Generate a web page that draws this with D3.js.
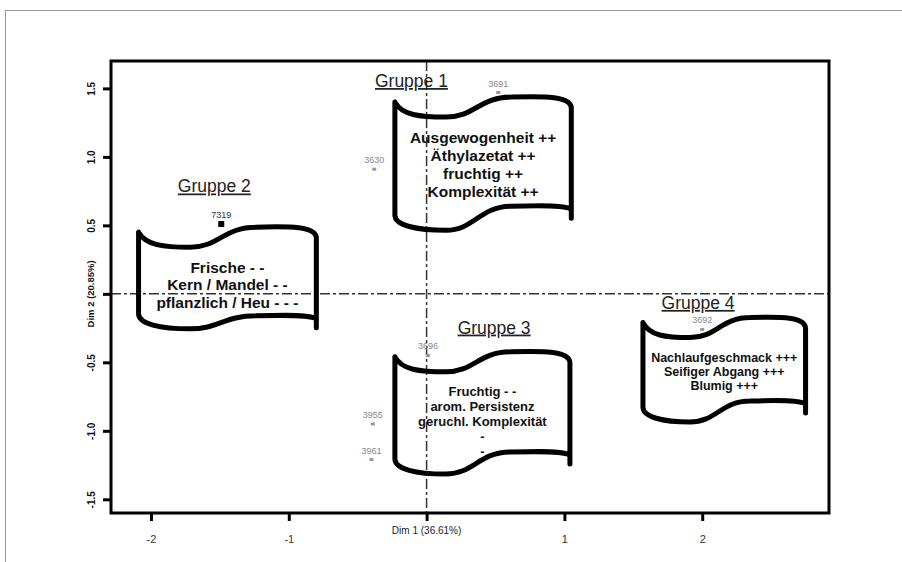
<!DOCTYPE html>
<html>
<head>
<meta charset="utf-8">
<script src="https://cdn.jsdelivr.net/npm/d3@7"></script>
<style>
  body { margin: 0; background: #fff; }
  text { font-family: "Liberation Sans", Arial, sans-serif; }
</style>
</head>
<body>
<div id="chart"></div>
<script>
// samples (dim 1 / dim 2 scores)
const pointIds  = ["3691", "3630", "7319", "3696", "3955", "3961", "3692"];
const pointDim1 = [0.52, -0.38, -1.49, 0.01, -0.39, -0.40, 2.00];
const pointDim2 = [1.47, 0.91, 0.51, -0.45, -0.95, -1.21, -0.26];

// group banners: extent in dim units, title position and text lines
const groupNames  = ["Gruppe 1", "Gruppe 2", "Gruppe 3", "Gruppe 4"];
const groupTitleX = [-0.11, -1.54, 0.49, 1.97];
const groupTitleY = [1.51, 0.74, -0.29, -0.11];
const bannerX0    = [-0.23, -2.09, -0.23, 1.57];
const bannerX1    = [1.05, -0.80, 1.04, 2.75];
const bannerTop   = [1.40, 0.45, -0.46, -0.21];
const bannerBot   = [0.53, -0.19, -1.25, -0.87];
const bannerLines = [
  ["Ausgewogenheit ++", "Äthylazetat ++", "fruchtig ++", "Komplexität ++"],
  ["Frische - -", "Kern / Mandel - -", "pflanzlich / Heu - - -"],
  ["Fruchtig - -", "arom. Persistenz", "geruchl. Komplexität", "-", "-"],
  ["Nachlaufgeschmack +++", "Seifiger Abgang +++", "Blumig +++"]
];
const bannerFont = [15.5, 15.5, 13, 12.5];
const bannerStep = [18, 17.5, 15, 14];
const bannerRise = [15, 4, 13, 12];   // how far the bottom edge climbs on the right, px

const xTicks = [-2, -1, 0, 1, 2];
const yTicks = [-1.5, -1, -0.5, 0, 0.5, 1, 1.5];
const xTitle = "Dim 1 (36.61%)";
const yTitle = "Dim 2 (20.85%)";

const width = 902, height = 562;
const plotL = 111, plotR = 829, plotT = 61, plotB = 513;

let svg = d3.select("#chart").append("svg")
    .attr("width", width)
    .attr("height", height);

// thin outer frame
svg.append("rect")
    .attr("x", 5.5).attr("y", 10.5)
    .attr("width", 1000).attr("height", 1000)
    .style("fill", "none")
    .style("stroke", "#999")
    .style("stroke-width", 1);

let x = d3.scaleLinear().domain([-2.29, 2.92]).range([plotL, plotR]);
let y = d3.scaleLinear().domain([-1.60, 1.70]).range([plotB, plotT]);

// reference lines through origin
svg.append("line")
    .attr("x1", plotL).attr("x2", plotR)
    .attr("y1", y(0)).attr("y2", y(0))
    .style("stroke", "#333").style("stroke-width", 1.5)
    .style("stroke-dasharray", "10,3,3,3");
svg.append("line")
    .attr("x1", x(0)).attr("x2", x(0))
    .attr("y1", plotT).attr("y2", plotB)
    .style("stroke", "#333").style("stroke-width", 1.5)
    .style("stroke-dasharray", "10,3,3,3");

// axes
let xAxis = svg.append("g")
    .attr("transform", "translate(0," + plotB + ")")
    .call(d3.axisBottom(x).tickValues(xTicks).tickSize(8).tickPadding(14)
      .tickFormat(d => d === 0 ? "" : String(d)));
let yAxis = svg.append("g")
    .attr("transform", "translate(" + plotL + ",0)")
    .call(d3.axisLeft(y).tickValues(yTicks).tickSize(8).tickPadding(4)
      .tickFormat(d => d === 0 ? "" : d3.format(".1f")(d).replace("−", "-")));

[xAxis, yAxis].forEach(a => {
  a.select(".domain").remove();
  a.selectAll(".tick line").style("stroke", "#000").style("stroke-width", 3);
});
xAxis.selectAll(".tick text")
    .style("font-size", "11px").style("fill", "#333");
yAxis.selectAll(".tick text")
    .attr("transform", "rotate(-90)")
    .attr("x", 0).attr("y", -20)
    .attr("dy", "0.35em")
    .style("text-anchor", "middle")
    .style("font-size", "10px").style("font-weight", "bold").style("fill", "#111");

// plot box
svg.append("rect")
    .attr("x", plotL).attr("y", plotT)
    .attr("width", plotR - plotL).attr("height", plotB - plotT)
    .style("fill", "none").style("stroke", "#000").style("stroke-width", 3);

svg.append("text")
    .attr("x", x(0)).attr("y", plotB + 21)
    .style("text-anchor", "middle").style("font-size", "10px").style("fill", "#222")
    .text(xTitle);
svg.append("text")
    .attr("transform", "translate(91," + y(0) + ") rotate(-90)")
    .attr("dy", "0.35em")
    .style("text-anchor", "middle").style("font-size", "9.5px")
    .style("font-weight", "bold").style("fill", "#111")
    .text(yTitle);

// banner path from its extent
function bannerPath(i) {
  let x0 = x(bannerX0[i]), x1 = x(bannerX1[i]);
  let yT = y(bannerTop[i]), yB = y(bannerBot[i]);
  let W = x1 - x0, r = bannerRise[i];
  let p = d3.path();
  // top edge
  p.moveTo(x0, yT);
  p.bezierCurveTo(x0 + 0.04 * W, yT + 13, x0 + 0.14 * W, yT + 15, x0 + 0.29 * W, yT + 15);
  p.bezierCurveTo(x0 + 0.45 * W, yT + 15, x0 + 0.48 * W, yT - 5, x0 + 0.66 * W, yT - 5);
  p.bezierCurveTo(x0 + 0.85 * W, yT - 6, x1, yT - 6, x1, yT + 6);
  // right edge with short tail
  p.lineTo(x1, yB - r + 12);
  // left edge
  p.moveTo(x0, yT);
  p.lineTo(x0, yB - 6);
  // bottom edge
  p.bezierCurveTo(x0, yB + 4, x0 + 0.12 * W, yB + 9, x0 + 0.29 * W, yB + 9);
  p.bezierCurveTo(x0 + 0.45 * W, yB + 9, x0 + 0.48 * W, yB - r, x0 + 0.66 * W, yB - r);
  p.bezierCurveTo(x0 + 0.85 * W, yB - r - 1, x1 - 6, yB - r - 1, x1, yB - r + 3);
  return p.toString();
}

let groups = d3.range(groupNames.length);

svg.append("g").selectAll("path")
    .data(groups)
    .enter().append("path")
    .attr("d", d => bannerPath(d))
    .style("fill", "none")
    .style("stroke", "#000")
    .style("stroke-width", 5)
    .style("stroke-linecap", "round")
    .style("stroke-linejoin", "round");

// banner text
groups.forEach(i => {
  let cx = (x(bannerX0[i]) + x(bannerX1[i])) / 2;
  let yT = y(bannerTop[i]);
  svg.append("g").selectAll("text")
    .data(bannerLines[i])
    .enter().append("text")
    .attr("x", cx)
    .attr("y", (d, j) => yT + 35 + j * bannerStep[i])
    .attr("dy", "0.35em")
    .style("text-anchor", "middle")
    .style("font-size", bannerFont[i] + "px")
    .style("font-weight", "bold")
    .style("fill", "#111")
    .text(d => d);
});

// group titles
svg.append("g").selectAll("text")
    .data(groups)
    .enter().append("text")
    .attr("x", d => x(groupTitleX[d]))
    .attr("y", d => y(groupTitleY[d]))
    .style("text-anchor", "middle")
    .style("font-size", "17.5px")
    .style("text-decoration", "underline")
    .style("fill", "#222")
    .text(d => groupNames[d]);

// sample points
let pts = d3.range(pointIds.length);
svg.append("g").selectAll("rect")
    .data(pts)
    .enter().append("rect")
    .attr("x", d => x(pointDim1[d]) - (pointIds[d] === "7319" ? 3 : 2))
    .attr("y", d => y(pointDim2[d]) - (pointIds[d] === "7319" ? 3 : 1.5))
    .attr("width", d => pointIds[d] === "7319" ? 6 : 4)
    .attr("height", d => pointIds[d] === "7319" ? 6 : 3)
    .style("fill", d => pointIds[d] === "7319" ? "#000" : "#999");

svg.append("g").selectAll("text")
    .data(pts)
    .enter().append("text")
    .attr("x", d => x(pointDim1[d]))
    .attr("y", d => y(pointDim2[d]) - 6)
    .style("text-anchor", "middle")
    .style("font-size", "9px")
    .style("fill", d => pointIds[d] === "7319" ? "#333" : "#888")
    .text(d => pointIds[d]);
</script>
</body>
</html>
